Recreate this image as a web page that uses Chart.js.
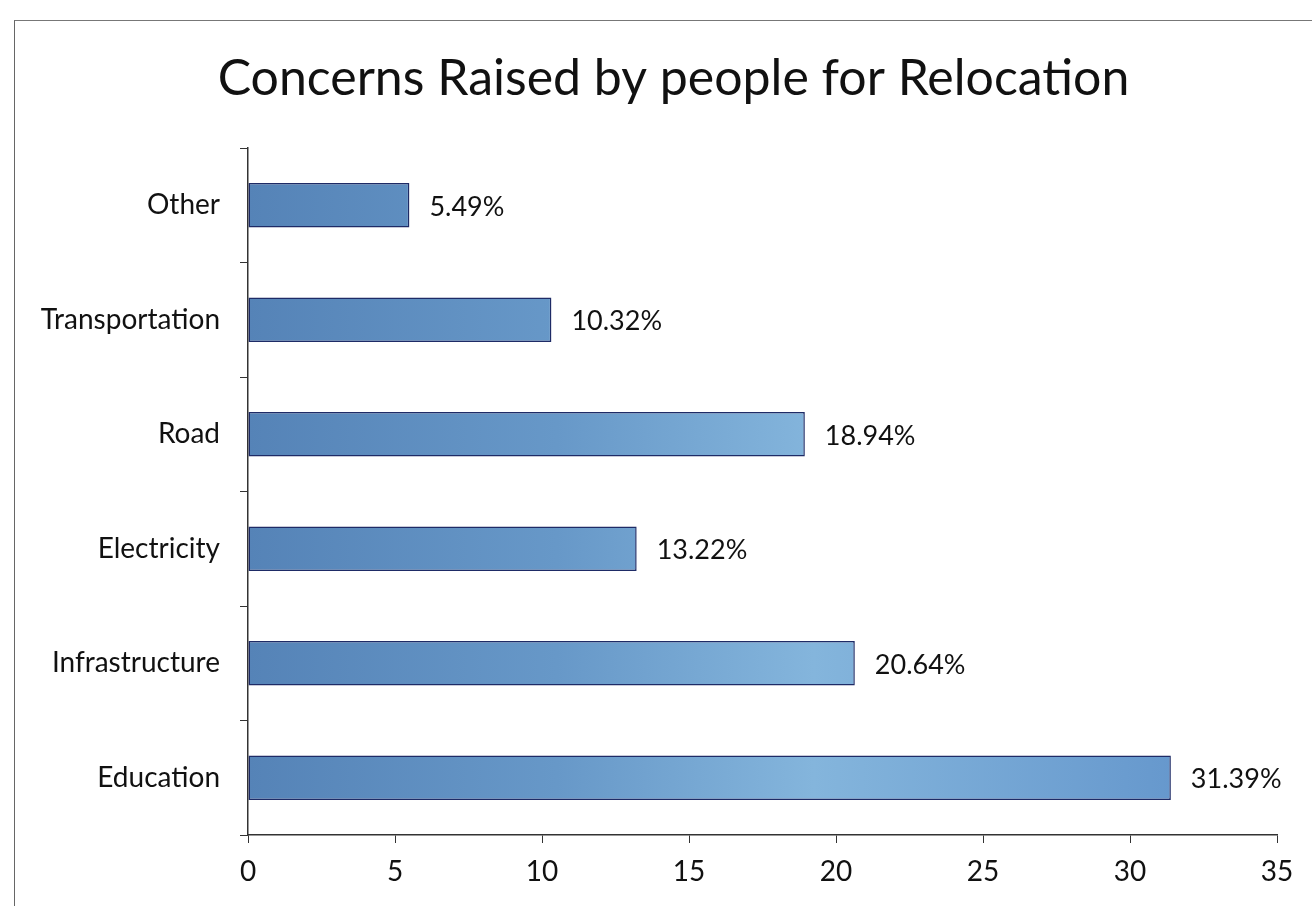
<!DOCTYPE html>
<html>
<head>
<meta charset="utf-8">
<title>Concerns Raised by people for Relocation</title>
<script src="https://cdn.jsdelivr.net/npm/chart.js@4"></script>
<style>
  html, body { margin: 0; padding: 0; background: #fff; }
  #wrap { position: relative; width: 1312px; height: 906px; overflow: hidden; }
  #frame { position: absolute; left: 14px; top: 20px; width: 1400px; height: 1000px;
           border-left: 1.5px solid #666; border-top: 1.5px solid #777; }
  canvas { position: absolute; left: 0; top: 0; }
</style>
</head>
<body>
<div id="wrap">
  <div id="frame"></div>
  <canvas id="chart" width="1312" height="906"></canvas>
</div>
<script>
  // listed top-to-bottom as they appear on the y axis
  const categories = ['Other', 'Transportation', 'Road', 'Electricity', 'Infrastructure', 'Education'];
  const shares = [5.49, 10.32, 18.94, 13.22, 20.64, 31.39];
  const xTicks = [0, 5, 10, 15, 20, 25, 30, 35];

  const fontFamily = 'Lato, "Open Sans", sans-serif';

  // percentage labels at the end of each bar
  const valueLabels = {
    id: 'valueLabels',
    afterDatasetsDraw(chart) {
      const ctx = chart.ctx;
      const meta = chart.getDatasetMeta(0);
      ctx.save();
      ctx.font = '27px ' + fontFamily;
      ctx.fillStyle = '#111';
      ctx.textBaseline = 'middle';
      ctx.textAlign = 'left';
      meta.data.forEach((bar, i) => {
        ctx.fillText(shares[i].toFixed(2) + '%', bar.x + 20, bar.y + 2);
      });
      ctx.restore();
    }
  };

  // centre the title over the plot rather than the whole canvas
  const titleOverPlot = {
    id: 'titleOverPlot',
    afterLayout(chart) {
      if (chart.titleBlock) chart.titleBlock.left = 70;
    }
  };

  function barFill(context) {
    const area = context.chart.chartArea;
    if (!area) return '#5b8fc6';
    const g = context.chart.ctx.createLinearGradient(area.left, 0, area.right, 0);
    g.addColorStop(0, '#5583b7');
    g.addColorStop(0.3, '#6798c8');
    g.addColorStop(0.55, '#84b5dc');
    g.addColorStop(0.9, '#6698cd');
    return g;
  }

  new Chart(document.getElementById('chart'), {
    type: 'bar',
    data: {
      labels: categories,
      datasets: [{
        data: shares,
        backgroundColor: barFill,
        borderColor: '#1e2b66',
        borderWidth: 1.5,
        borderSkipped: false,
        categoryPercentage: 1,
        barPercentage: 0.39
      }]
    },
    plugins: [valueLabels, titleOverPlot],
    options: {
      indexAxis: 'y',
      responsive: false,
      animation: false,
      layout: { padding: { left: 0, right: 35, top: 0, bottom: 10 } },
      plugins: {
        legend: { display: false },
        tooltip: { enabled: false },
        title: {
          display: true,
          text: 'Concerns Raised by people for Relocation',
          color: '#111',
          font: { family: fontFamily, size: 50, weight: 'normal' },
          padding: { top: 49, bottom: 39 }
        }
      },
      scales: {
        x: {
          type: 'linear',
          min: xTicks[0],
          max: xTicks[xTicks.length - 1],
          afterBuildTicks(scale) { scale.ticks = xTicks.map(v => ({ value: v })); },
          afterFit(scale) { scale.height = 61; },
          border: { color: '#333', width: 1.5 },
          grid: { drawOnChartArea: false, tickLength: 8, color: '#333' },
          ticks: { color: '#111', padding: 12, font: { family: fontFamily, size: 28 } }
        },
        y: {
          afterFit(scale) { scale.width = 248; },
          border: { color: '#333', width: 1.5 },
          grid: { drawOnChartArea: false, tickLength: 8, color: '#333', offset: true },
          ticks: { color: '#111', padding: 20, font: { family: fontFamily, size: 28 } }
        }
      }
    }
  });
</script>
</body>
</html>
